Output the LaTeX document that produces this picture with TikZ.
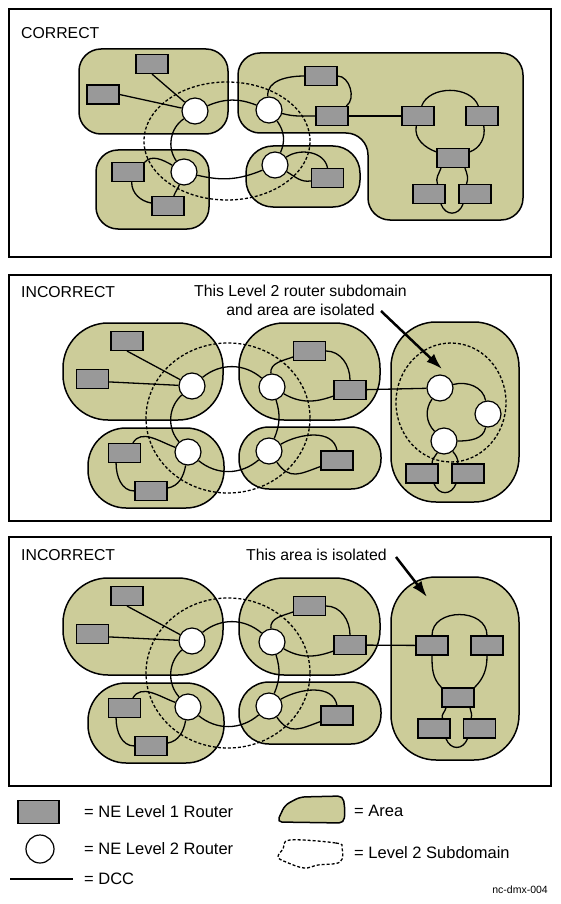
\documentclass[tikz,border=0pt]{standalone}
\usepackage{fontspec}
\setmainfont{Liberation Sans}
\usetikzlibrary{arrows.meta}
\definecolor{areafill}{RGB}{204,204,153}
\definecolor{boxgray}{RGB}{153,153,153}

\begin{document}
\begin{tikzpicture}[x=1pt,y=1pt,
  panel/.style={line width=2pt},
  area/.style={draw, fill=areafill, line width=1.5pt},
  subdom/.style={line width=1.3pt, dash pattern=on 3pt off 2pt},
  lone/.style={draw, fill=boxgray, line width=1.1pt, minimum width=32pt, minimum height=19pt, inner sep=0pt},
  ltwo/.style={circle, draw, fill=white, line width=1.2pt, minimum size=26pt, inner sep=0pt},
  dcc/.style={line width=1.3pt},
  lbl/.style={font=\fontsize{15.8}{19}\selectfont, inner sep=0pt},
  key/.style={font=\fontsize{16.5}{20}\selectfont, inner sep=0pt, anchor=west},
  isol/.style={line width=2.5pt, -{Latex[length=16pt,width=11pt]}}]
\useasboundingbox (0,0) rectangle (560,-904);
\draw[panel] (9,-9) rectangle (551,-257);
\draw[panel] (9,-275) rectangle (551,-521);
\draw[panel] (9,-537) rectangle (551,-786);

% correct
\node[lbl, anchor=west] (ok) at (21,-33) {CORRECT};
\draw[area, rounded corners=22pt] (79,-49) rectangle (228,-134);
\draw[area, rounded corners=22pt] (96,-150) rectangle (209,-229);
\draw[area, rounded corners=27pt] (246,-146) rectangle (360,-207);
\draw[area, rounded corners=22pt] (238,-53) -- (523,-53) -- (523,-220) -- (368,-220) -- (368,-133) -- (238,-133) -- cycle;
\draw[subdom] (227,-141) ellipse [x radius=83, y radius=59];
\node[ltwo] (pr1) at (195,-111) {};
\node[ltwo] (pr2) at (269,-110) {};
\node[ltwo] (pr3) at (184,-172) {};
\node[ltwo] (pr4) at (275,-165) {};
\node[lone] (pa1) at (152,-64) {};
\node[lone] (pa2) at (103,-94.5) {};
\node[lone] (pb1) at (128,-172) {};
\node[lone] (pb2) at (168,-206) {};
\node[lone] (pc1) at (327.5,-178) {};
\node[lone] (pd1) at (321,-76) {};
\node[lone] (pd2) at (332,-116) {};
\node[lone] (pd3) at (418,-116) {};
\node[lone] (pd4) at (482,-116) {};
\node[lone] (pd5) at (453,-158) {};
\node[lone] (pd6) at (429,-194) {};
\node[lone] (pd7) at (475,-194) {};
\draw[dcc] (pa1.south) -- (pr1);
\draw[dcc] (pa2.east) -- (pr1);
\draw[dcc] (pr1) to[bend left=22] (pr2);
\draw[dcc] (pr1) to[bend right=45] (pr3);
\draw[dcc] (pr3) to[bend right=18] (pr4);
\draw[dcc] (pr2) to[bend left=30] (pr4);
\draw[dcc] (pr2) to[out=95,in=180] (pd1);
\draw[dcc] (pd1) to[out=0,in=35] (pd2);
\draw[dcc] (pr2) to[out=-15,in=180] (pd2);
\draw[dcc] (pd2) -- (pd3);
\draw[dcc] (pd3) to[out=70,in=110] (pd4);
\draw[dcc] (pd3) to[out=-100,in=160] (pd5);
\draw[dcc] (pd4) to[out=-80,in=20] (pd5);
\draw[dcc] (pd5.-140) to[out=-110,in=110] (pd6.50);
\draw[dcc] (pd5.-40) to[out=-70,in=70] (pd7.130);
\draw[dcc] (pd6.-40) to[out=-70,in=-110,looseness=1.5] (pd7.-140);
\draw[dcc] (pb1.30) to[out=50,in=150] (pr3);
\draw[dcc] (pb1.-70) to[out=-90,in=170] (pb2);
\draw[dcc] (pb2.60) to[out=70,in=-110] (pr3);
\draw[dcc] (pr4) to[out=35,in=100] (pc1.north);
\draw[dcc] (pr4) to[out=-30,in=190] (pc1);

% incorrect, isolated subdomain
\node[lbl, anchor=west] (bad1) at (21,-292) {INCORRECT};
\node[lbl, anchor=north, align=center] (note1) at (300.5,-284.5) {This Level 2 router subdomain\\and area are isolated};
\draw[area, rounded corners=45pt] (63,-323) rectangle (223,-420);
\draw[area, rounded corners=38pt] (88,-428) rectangle (224,-508);
\draw[area, rounded corners=45pt] (239,-323) rectangle (380,-420);
\draw[area, rounded corners=30pt] (239,-427) rectangle (381,-489);
\draw[area, rounded corners=45pt] (391,-322) rectangle (519,-502);
\draw[subdom] (228,-418) ellipse [x radius=82, y radius=75];
\draw[subdom] (451,-402.5) ellipse [x radius=55, y radius=59.5];
\node[ltwo] (qr1) at (192,-386) {};
\node[ltwo] (qr2) at (272,-387) {};
\node[ltwo] (qr3) at (188,-452) {};
\node[ltwo] (qr4) at (269,-451) {};
\node[ltwo] (qr5) at (440,-388) {};
\node[ltwo] (qr6) at (488,-414) {};
\node[ltwo] (qr7) at (444,-441) {};
\node[lone] (qe1) at (127,-341) {};
\node[lone] (qe2) at (92.5,-379) {};
\node[lone] (qf1) at (124.5,-453) {};
\node[lone] (qf2) at (151,-491) {};
\node[lone] (qg1) at (309.5,-351) {};
\node[lone] (qg2) at (350,-390) {};
\node[lone] (qh1) at (337,-460.5) {};
\node[lone] (qi1) at (422,-473.5) {};
\node[lone] (qi2) at (468,-473.5) {};
\draw[dcc] (qe1.south) -- (qr1);
\draw[dcc] (qe2.-10) -- (qr1);
\draw[dcc] (qr1) to[bend left=40] (qr2);
\draw[dcc] (qr1) to[bend right=45] (qr3);
\draw[dcc] (qr3) to[bend right=40] (qr4);
\draw[dcc] (qr2) to[bend left=20] (qr4);
\draw[dcc] (qr2) to[out=95,in=200] (qg1);
\draw[dcc] (qg1) to[out=0,in=90] (qg2);
\draw[dcc] (qr2) to[out=-30,in=200] (qg2);
\draw[dcc] (qg2) -- (qr5);
\draw[dcc] (qr5) to[out=15,in=100] (qr6);
\draw[dcc] (qr6) to[out=-100,in=0] (qr7);
\draw[dcc] (qr5) to[bend right=40] (qr7);
\draw[dcc] (qr7) to[out=-120,in=90] (qi1.45);
\draw[dcc] (qr7) to[out=-50,in=90] (qi2.135);
\draw[dcc] (qi1.-40) to[out=-70,in=-110,looseness=1.5] (qi2.-140);
\draw[dcc] (qr4) to[out=30,in=100] (qh1.north);
\draw[dcc] (qr4) to[out=-55,in=200,looseness=1.3] (qh1);
\draw[dcc] (qf1.50) to[out=60,in=160] (qr3);
\draw[dcc] (qf1.-130) to[out=-90,in=180] (qf2);
\draw[dcc] (qf2.10) to[out=10,in=-100] (qr3);
\coordinate (note1tail) at (381,-311);
\coordinate (note1tip) at (442,-369);
\draw[isol] (note1tail) -- (note1tip);

% incorrect, isolated area
\node[lbl, anchor=west] (bad2) at (21,-555) {INCORRECT};
\node[lbl, anchor=west] (note2) at (246,-555) {This area is isolated};
\begin{scope}[yshift=-255pt]
\draw[area, rounded corners=45pt] (63,-323) rectangle (223,-420);
\draw[area, rounded corners=38pt] (88,-428) rectangle (224,-508);
\draw[area, rounded corners=45pt] (239,-323) rectangle (380,-420);
\draw[area, rounded corners=30pt] (239,-427) rectangle (381,-489);
\draw[area, rounded corners=45pt] (391,-322) rectangle (519,-505);
\draw[subdom] (228,-418) ellipse [x radius=82, y radius=75];
\node[ltwo] (sr1) at (192,-386) {};
\node[ltwo] (sr2) at (272,-387) {};
\node[ltwo] (sr3) at (188,-452) {};
\node[ltwo] (sr4) at (269,-451) {};
\node[lone] (se1) at (127,-341) {};
\node[lone] (se2) at (92.5,-379) {};
\node[lone] (sf1) at (124.5,-453) {};
\node[lone] (sf2) at (151,-491) {};
\node[lone] (sg1) at (309.5,-351) {};
\node[lone] (sg2) at (350,-390) {};
\node[lone] (sh1) at (337,-460.5) {};
\node[lone] (sj1) at (432,-390.5) {};
\node[lone] (sj2) at (487,-390.5) {};
\node[lone] (sj3) at (458,-442.5) {};
\node[lone] (sj4) at (434,-473.5) {};
\node[lone] (sj5) at (479.5,-473.5) {};
\draw[dcc] (se1.south) -- (sr1);
\draw[dcc] (se2.-10) -- (sr1);
\draw[dcc] (sr1) to[bend left=40] (sr2);
\draw[dcc] (sr1) to[bend right=45] (sr3);
\draw[dcc] (sr3) to[bend right=40] (sr4);
\draw[dcc] (sr2) to[bend left=20] (sr4);
\draw[dcc] (sr2) to[out=95,in=200] (sg1);
\draw[dcc] (sg1) to[out=0,in=90] (sg2);
\draw[dcc] (sr2) to[out=-30,in=200] (sg2);
\draw[dcc] (sr4) to[out=30,in=100] (sh1.north);
\draw[dcc] (sr4) to[out=-55,in=200,looseness=1.3] (sh1);
\draw[dcc] (sf1.50) to[out=60,in=160] (sr3);
\draw[dcc] (sf1.-130) to[out=-90,in=180] (sf2);
\draw[dcc] (sf2.10) to[out=10,in=-100] (sr3);
\draw[dcc] (sg2) -- (sj1);
\draw[dcc] (sj1.north) to[out=90,in=90,looseness=1.3] (sj2.north);
\draw[dcc] (sj1.south) to[out=-90,in=135] (sj3.north west);
\draw[dcc] (sj2.south) to[out=-90,in=45] (sj3.north east);
\draw[dcc] (sj3.-140) to[out=-100,in=110] (sj4.50);
\draw[dcc] (sj3.-40) to[out=-80,in=70] (sj5.130);
\draw[dcc] (sj4.-40) to[out=-70,in=-110,looseness=1.5] (sj5.-140);
\end{scope}
\coordinate (note2tail) at (396,-557);
\coordinate (note2tip) at (427,-597);
\draw[isol] (note2tail) -- (note2tip);

% legend
\node[lone, minimum width=41pt, minimum height=23pt] (k1) at (38.5,-812) {};
\node[key] (k1t) at (84,-812) {= NE Level 1 Router};
\node[ltwo, minimum size=28pt] (k2) at (40,-849) {};
\node[key] (k2t) at (84,-849) {= NE Level 2 Router};
\draw[dcc] (10,-879) -- (73,-879);
\node[key] (k3t) at (84,-879) {= DCC};
\draw[area, rounded corners=5pt] (277,-822) -- (285,-805) -- (300,-797) -- (343,-796) -- (345,-810) -- (344,-823) -- cycle;
\node[key] (k4t) at (354,-811) {= Area};
\draw[subdom] plot[smooth cycle, tension=0.6] coordinates {(290,-840) (336,-843) (342,-848) (340,-862) (318,-865) (304,-868) (286,-862) (278,-857) (283,-849)};
\node[key] (k5t) at (354,-853) {= Level 2 Subdomain};
\node[font=\fontsize{10.5}{12}\selectfont, inner sep=0pt, anchor=east] (tag) at (548,-890) {nc-dmx-004};
\end{tikzpicture}
\end{document}
